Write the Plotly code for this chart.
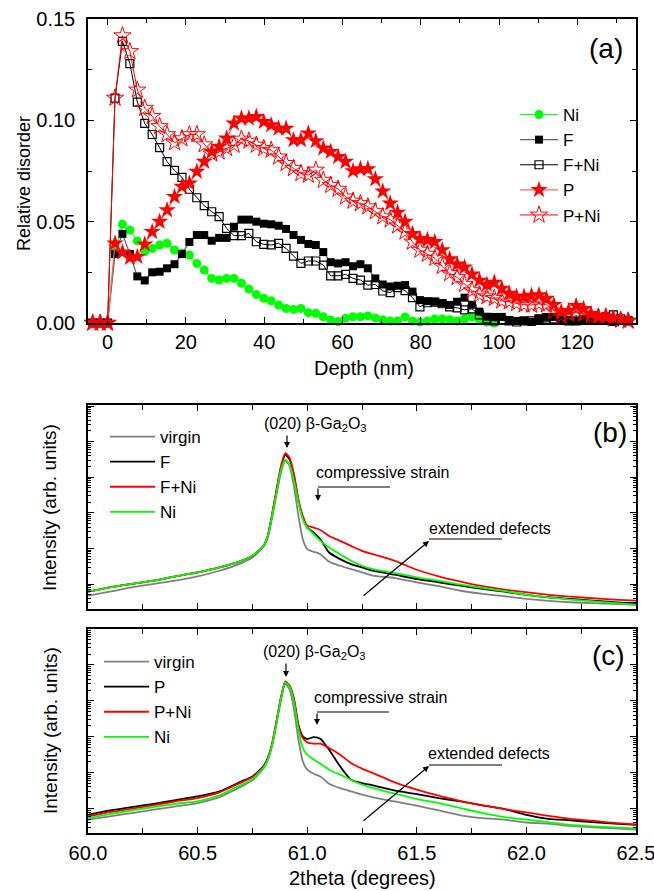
import plotly.graph_objects as go

W, H = 654, 891

# ---------------- panel (a): relative disorder vs depth ----------------
depth_nm = [-3.8, -1.9, 0.0, 1.9, 3.8, 5.7, 7.6, 9.5, 11.4, 13.3, 15.2, 17.1, 19.0, 20.9,
            22.8, 24.7, 26.6, 28.5, 30.4, 32.3, 34.2, 36.1, 38.0, 39.9, 41.8, 43.7, 45.6,
            47.5, 49.4, 51.3, 53.2, 55.1, 57.0, 58.9, 60.8, 62.7, 64.6, 66.5, 68.4, 70.3,
            72.2, 74.1, 76.0, 77.9, 79.8, 81.7, 83.6, 85.5, 87.4, 89.3, 91.2, 93.1, 95.0,
            96.9, 98.8, 100.7, 102.6, 104.5, 106.4, 108.3, 110.2, 112.1, 114.0, 115.9,
            117.8, 119.7, 121.6, 123.5, 125.4, 127.3, 129.2, 131.1, 133.0]

dis_Ni = [0, 0, 0, .035, .0487, .0459, .0405, .0352, .0368, .0385, .0393, .036, .0344, .0335,
          .0294, .0261, .022, .0212, .022, .022, .0196, .0168, .0141, .0122, .011, .0089, .0072,
          .0067, .0072, .0051, .0048, .0031, .0015, .0007, .0023, .0031, .0031, .0035, .0025,
          .0016, .001, .001, .003, .001, .0005, .001, .002, .002, .0016, .001, .002, .003,
          .0015, .0005, 0.0] + [None] * 18

dis_F = [0, 0, 0, .034, .044, .034, .023, .021, .025, .0253, .027, .029, .034, .040, .0434,
         .0434, .0406, .042, .042, .0475, .051, .051, .050, .049, .0487, .048, .0464, .0434,
         .041, .039, .0385, .035, .030, .0294, .030, .028, .029, .027, .022, .019, .018, .0184,
         .0187, .0155, .0113, .0108, .0105, .0098, .0089, .0105, .0125, .009, .0056, .0031,
         .003, .003, .0015, .001, .001, .0005, .002, .003, .003, .002, .0015, .001, .0015,
         .002, .001, .001, .0005, .001, .0012]

dis_FNi = [0, 0, 0, .111, .139, .128, .109, .0985, .093, .0865, .0796, .0753, .0719, .066,
           .0618, .0579, .0549, .0525, .0467, .0431, .0431, .0442, .0401, .0388, .0385, .0393,
           .0368, .033, .0294, .0306, .0306, .0286, .0233, .0233, .024, .022, .0212, .0187,
           .019, .0158, .015, .0175, .016, .0125, .008, .010, .0103, .0095, .008, .0075, .0065,
           .007, .004, .002, .001, .0015, .001, .0005, .001, .001, .002, .0025, .002, .0015,
           .001, .001, .0015, .002, .002, .003, .004, .002, .001]

dis_P = [0, 0, 0, .0393, .0349, .0322, .0327, .0388, .045, .05, .0557, .0623, .0673, .0689,
         .0747, .0796, .0845, .087, .0911, .0985, .101, .101, .1018, .0993, .0977, .096, .096,
         .0903, .0903, .0936, .0898, .0862, .0845, .082, .0796, .075, .076, .076, .071, .065,
         .059, .0545, .050, .044, .0415, .041, .040, .036, .0315, .029, .0275, .024, .021,
         .019, .020, .017, .0145, .013, .013, .0135, .0138, .012, .009, .0055, .006, .0085,
         .007, .0045, .0033, .003, .0023, .0015, .0012]

dis_PNi = [0, 0, 0, .111, .1418, .134, .115, .106, .102, .097, .093, .089, .091, .093, .093,
           .088, .0835, .0845, .0862, .0878, .0908, .0898, .0878, .0862, .0853, .082, .0788,
           .0763, .0738, .073, .0755, .0705, .068, .0661, .0623, .0602, .059, .0574, .055,
           .0525, .051, .048, .045, .040, .036, .034, .032, .028, .0245, .0225, .019, .016,
           .014, .013, .0122, .011, .0105, .0097, .009, .0089, .0095, .009, .006, .0035,
           .0045, .0055, .0045, .003, .003, .003, .002, .0015, .001]

# ---------------- panels (b), (c): XRD intensity vs 2theta ----------------
two_theta = [60.0, 60.1, 60.2, 60.3, 60.4, 60.5, 60.6, 60.7, 60.75, 60.8, 60.82, 60.84, 60.86,
             60.88, 60.9, 60.92, 60.94, 60.96, 60.98, 61.0, 61.03, 61.06, 61.1, 61.15, 61.2,
             61.25, 61.3, 61.4, 61.5, 61.6, 61.7, 61.8, 61.9, 62.0, 62.1, 62.2, 62.3, 62.4, 62.5]

b_virgin = [4.75, 6.1, 8.1, 10.1, 12.5, 16.5, 23.7, 38.8, 55.8, 113, 202, 733, 3280, 13200,
            29300, 20300, 5380, 815, 182, 95.5, 80.5, 69.2, 42.3, 32.7, 26.4, 21.3, 17.2,
            14.8, 11.2, 8.7, 6.5, 5.3, 4.55, 3.83, 3.37, 3.09, 2.90, 2.78, 2.61]
b_F = [6.1, 8.1, 10.1, 12.5, 16.5, 21.3, 29.4, 45.1, 62.2, 118, 225, 908, 4070, 18200, 43000,
       31200, 10700, 2140, 733, 385, 279, 182, 77.1, 50.2, 36.4, 29.4, 23.7,
       18.3, 13.9, 11.2, 9.0, 7.3, 6.1, 5.0, 4.26, 3.83, 3.44, 3.09, 2.90]
b_FNi = [6.1, 8.1, 10.1, 12.5, 16.5, 21.3, 29.4, 45.1, 62.2, 118, 225, 908, 4530, 20300,
         47900, 34800, 11900, 2380, 815, 447, 385, 331, 225, 163, 118, 85.9, 69.2,
         45.1, 25.3, 16.5, 11.7, 8.7, 7.0, 5.9, 5.0, 4.45, 4.0, 3.67, 3.44]
b_Ni = [6.1, 8.1, 10.1, 12.5, 16.5, 21.3, 29.4, 45.1, 62.2, 118, 216, 815, 3660, 15700, 31200,
        22600, 7740, 1920, 658, 385, 251, 163, 106, 69.2, 45.1, 32.7, 26.4,
        20.4, 15.5, 12.5, 9.6, 7.8, 6.3, 5.0, 4.26, 3.67, 3.30, 2.96, 2.66]

c_virgin = [4.9, 6.1, 7.5, 9.3, 11.5, 14.2, 20.9, 41.4, 61.0, 129, 220, 562, 2310, 10300,
            30000, 20400, 5660, 826, 206, 121, 93.3, 78.7, 49.2, 37.2, 30.1, 24.3, 20.5,
            15.8, 12.0, 8.9, 6.5, 5.4, 4.9, 4.1, 3.8, 3.3, 3.0, 2.8, 2.6]
c_P = [6.7, 8.9, 11.0, 13.6, 17.3, 21.8, 30.1, 57.1, 78.7, 150, 255, 640, 2680, 12000, 32700,
       25300, 10800, 2160, 1020, 863, 982, 881, 436, 150, 63.5, 51.3, 44.2,
       31.4, 25.4, 19.6, 15.8, 12.3, 9.7, 6.7, 5.2, 4.7, 4.2, 3.8, 3.5]
c_PNi = [6.1, 8.0, 9.9, 12.5, 15.8, 19.6, 28.2, 53.6, 75.3, 143, 244, 640, 2680, 12000, 34800,
         26400, 10800, 1950, 920, 697, 640, 640, 484, 316, 185, 129, 97.5,
         53.6, 33.5, 22.8, 16.2, 12.3, 9.7, 7.8, 6.3, 5.2, 4.6, 4.0, 3.6]
c_Ni = [5.4, 7.0, 8.9, 11.0, 13.6, 15.8, 23.3, 46.1, 66.4, 134, 229, 600, 2410, 11200, 32700,
        24200, 8690, 1570, 484, 316, 229, 177, 121, 87.5, 63.5, 46.1, 37.2,
        25.9, 18.4, 14.2, 10.3, 7.5, 5.8, 4.9, 4.2, 3.5, 3.2, 3.0, 2.8]

# ---------------- styling helpers ----------------
FONT = "Liberation Sans, Arial, sans-serif"
GREEN, RED, BLACK, GRAY = "#00ff00", "#ff0000", "#000000", "#808080"


def PX(x):
    return x / W


def PY(y):
    return 1 - y / H


fig = go.Figure()

# panel (a) traces
fig.add_trace(go.Scatter(x=depth_nm, y=dis_Ni, name="Ni", mode="lines+markers",
                         line=dict(color=GREEN, width=1),
                         marker=dict(symbol="circle", size=9, color=GREEN, line=dict(width=0)),
                         cliponaxis=False, xaxis="x", yaxis="y", legend="legend",
                         connectgaps=False))
fig.add_trace(go.Scatter(x=depth_nm, y=dis_F, name="F", mode="lines+markers",
                         line=dict(color="#606060", width=1.2),
                         marker=dict(symbol="square", size=8, color=BLACK, line=dict(width=0)),
                         cliponaxis=False, xaxis="x", yaxis="y", legend="legend"))
fig.add_trace(go.Scatter(x=depth_nm, y=dis_FNi, name="F+Ni", mode="lines+markers",
                         line=dict(color=BLACK, width=1),
                         marker=dict(symbol="square-open", size=8, color=BLACK, line=dict(width=1.2)),
                         cliponaxis=False, xaxis="x", yaxis="y", legend="legend"))
fig.add_trace(go.Scatter(x=depth_nm, y=dis_P, name="P", mode="lines+markers",
                         line=dict(color="#ff6060", width=1.2),
                         marker=dict(symbol="star", size=13, color=RED, line=dict(width=0)),
                         cliponaxis=False, xaxis="x", yaxis="y", legend="legend"))
fig.add_trace(go.Scatter(x=depth_nm, y=dis_PNi, name="P+Ni", mode="lines+markers",
                         line=dict(color=RED, width=1),
                         marker=dict(symbol="star-open", size=13, color=RED, line=dict(width=1)),
                         cliponaxis=False, xaxis="x", yaxis="y", legend="legend"))

# panel (b) traces
for name, ys, col in [("virgin", b_virgin, GRAY), ("F", b_F, BLACK),
                      ("F+Ni", b_FNi, RED), ("Ni", b_Ni, GREEN)]:
    fig.add_trace(go.Scatter(x=two_theta, y=ys, name=name, mode="lines",
                             line=dict(color=col, width=1.8, shape="spline", smoothing=0.6),
                             xaxis="x2", yaxis="y2", legend="legend2"))

# panel (c) traces
for name, ys, col in [("virgin", c_virgin, GRAY), ("P", c_P, BLACK),
                      ("P+Ni", c_PNi, RED), ("Ni", c_Ni, GREEN)]:
    fig.add_trace(go.Scatter(x=two_theta, y=ys, name=name, mode="lines",
                             line=dict(color=col, width=1.8, shape="spline", smoothing=0.6),
                             xaxis="x3", yaxis="y3", legend="legend3"))

axis_common = dict(showline=True, linecolor=BLACK, linewidth=1.5, mirror="ticks",
                   ticks="inside", ticklen=6, tickwidth=1.2, tickcolor=BLACK,
                   showgrid=False, zeroline=False, automargin=False,
                   ticklabeloverflow="allow",
                   tickfont=dict(family=FONT, size=20, color=BLACK))

xdom = [PX(88), PX(636)]
LEG_FONT = dict(family=FONT, size=17, color=BLACK)

fig.update_layout(
    width=W, height=H,
    margin=dict(l=0, r=0, t=0, b=0, autoexpand=False),
    paper_bgcolor="white", plot_bgcolor="white",
    font=dict(family=FONT, color=BLACK),
    xaxis=dict(domain=xdom, range=[-5, 135], dtick=20, tick0=0, anchor="y",
               minor=dict(dtick=10, ticks="inside", ticklen=4, tickcolor=BLACK, showgrid=False),
               ticklabelstandoff=0, **axis_common),
    yaxis=dict(domain=[PY(323), PY(19)], range=[0, 0.15], dtick=0.05, tickformat=".2f",
               anchor="x",
               minor=dict(dtick=0.025, ticks="inside", ticklen=4, tickcolor=BLACK, showgrid=False),
               ticklabelstandoff=7, **axis_common),
    xaxis2=dict(domain=xdom, range=[60, 62.5], dtick=0.5, tick0=60, anchor="y2",
                showticklabels=False,
                minor=dict(dtick=0.25, ticks="inside", ticklen=5, tickcolor=BLACK, showgrid=False),
                **axis_common),
    yaxis2=dict(domain=[PY(609), PY(405)], type="log", range=[0.30, 6.03], dtick=1,
                anchor="x2", showticklabels=False,
                minor=dict(ticks="inside", ticklen=3, tickcolor=BLACK, showgrid=False),
                **axis_common),
    xaxis3=dict(domain=xdom, range=[60, 62.5], dtick=0.5, tick0=60, anchor="y3",
                tickformat=".1f",
                minor=dict(dtick=0.25, ticks="inside", ticklen=5, tickcolor=BLACK, showgrid=False),
                ticklabelstandoff=1, **axis_common),
    yaxis3=dict(domain=[PY(833), PY(629)], type="log", range=[0.32, 6.0], dtick=1,
                anchor="x3", showticklabels=False,
                minor=dict(ticks="inside", ticklen=3, tickcolor=BLACK, showgrid=False),
                **axis_common),
    legend=dict(x=PX(515), y=PY(97), xanchor="left", yanchor="top", itemwidth=38,
                font=LEG_FONT, bgcolor="rgba(0,0,0,0)", tracegroupgap=0),
    legend2=dict(x=PX(105), y=PY(419), xanchor="left", yanchor="top", itemwidth=45,
                 font=LEG_FONT, bgcolor="rgba(0,0,0,0)", tracegroupgap=0),
    legend3=dict(x=PX(99), y=PY(644), xanchor="left", yanchor="top", itemwidth=45,
                 font=LEG_FONT, bgcolor="rgba(0,0,0,0)", tracegroupgap=0),
    showlegend=True,
)

ann = []
shapes = []


def text(x, y, s, size, angle=0):
    ann.append(dict(x=PX(x), y=PY(y), xref="paper", yref="paper", text=s, showarrow=False,
                    textangle=angle, xanchor="center", yanchor="middle",
                    font=dict(family=FONT, size=size, color=BLACK)))


def arrow(x0, y0, x1, y1):
    ann.append(dict(x=PX(x1), y=PY(y1), xref="paper", yref="paper", text="",
                    showarrow=True, ax=x0 - x1, ay=y0 - y1, axref="pixel", ayref="pixel",
                    arrowhead=2, arrowsize=1, arrowwidth=1.2, arrowcolor=BLACK))


def hline(x0, x1, y):
    shapes.append(dict(type="line", xref="paper", yref="paper", x0=PX(x0), x1=PX(x1),
                       y0=PY(y), y1=PY(y), line=dict(color=BLACK, width=1.2)))


# axis titles
text(24, 184, "Relative disorder", 18, -90)
text(364, 368, "Depth (nm)", 20)
text(50, 508, "Intensity (arb. units)", 19, -90)
text(50, 731, "Intensity (arb. units)", 19, -90)
text(362, 878, "2theta (degrees)", 20)

# panel labels
text(606, 49, "(a)", 28)
text(610, 432, "(b)", 28)
text(608, 655, "(c)", 28)

# panel (b) annotations
text(315, 425, "(020) β-Ga<sub>2</sub>O<sub>3</sub>", 16)
arrow(287, 434, 287, 448)
text(382, 472, "compressive strain", 16)
hline(318, 390, 487)
arrow(318, 487, 318, 501)
text(490, 528, "extended defects", 16)
hline(429, 502, 539)
arrow(362, 597, 429, 541)

# panel (c) annotations
text(314, 652, "(020) β-Ga<sub>2</sub>O<sub>3</sub>", 16)
arrow(286, 662, 286, 677)
text(380, 697, "compressive strain", 16)
hline(317, 389, 712)
arrow(317, 712, 317, 725)
text(489, 753, "extended defects", 16)
hline(429, 502, 765)
arrow(362, 822, 429, 766)

fig.update_layout(annotations=ann, shapes=shapes)

fig.write_html("out.html",
               config={"displayModeBar": False},
               post_script="document.body.style.margin='0px';document.body.style.padding='0px';")
